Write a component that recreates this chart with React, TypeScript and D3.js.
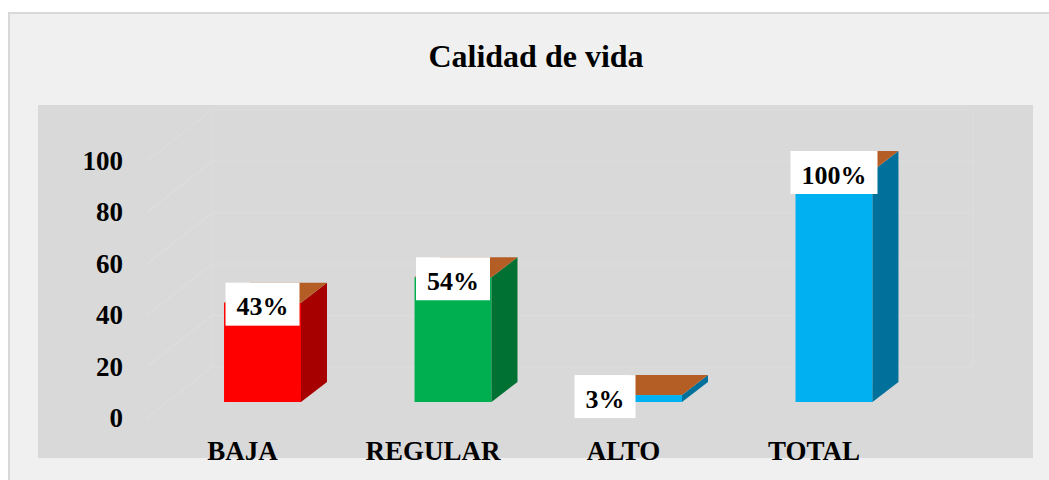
import React from "react";
import * as d3 from "d3";

const categories = ["BAJA", "REGULAR", "ALTO", "TOTAL"];
const values = [43, 54, 3, 100];
const valueLabels = ["43%", "54%", "3%", "100%"];
const yTicks = [0, 20, 40, 60, 80, 100];
const title = "Calidad de vida";

const frontColors = ["#ff0000", "#00b050", "#00b0f0", "#00b0f0"];
const sideColors = ["#a60000", "#007033", "#01709b", "#01709b"];
const topColor = "#b45e25";

const W = 1049;
const H = 480;
const FONT = "'Liberation Serif', 'Times New Roman', serif";

export default function App() {
  // axis/grid scale (front edge of floor)
  const yGrid = d3.scaleLinear().domain([0, 100]).range([418, 161]);
  // bar scale (at bar front plane)
  const yBar = d3.scaleLinear().domain([0, 100]).range([402, 171]);
  const x = d3.scaleBand<string>().domain(categories).range([110.5, 986]).padding(0.596);
  const bw = x.bandwidth();
  const wallDx = 65, wallDy = -51; // full depth of floor
  const barDx = 26, barDy = -20; // bar depth
  const labelShift = -20; // category label at floor front
  const gridLeft = 147;
  const wallRight = 973;
  const base = yBar(0);

  return (
    <svg width={W} height={H} style={{ position: "absolute", left: 0, top: 0 }} fontFamily={FONT}>
      <rect x={0} y={0} width={W} height={H} fill="#ffffff" />
      <rect x={9} y={13} width={1070} height={490} fill="#f0f0f0" stroke="#d9d9d9" strokeWidth={2} />
      <text x={536} y={67} textAnchor="middle" fontSize={32} fontWeight="bold" fill="#000">{title}</text>
      <rect x={38} y={105} width={995} height={353} fill="#d9d9d9" />
      {/* back wall */}
      <line x1={gridLeft + wallDx} y1={yGrid(100) + wallDy} x2={gridLeft + wallDx} y2={yGrid(0) + wallDy} stroke="#dddddd" strokeWidth={1} />
      <line x1={wallRight} y1={yGrid(100) + wallDy} x2={wallRight} y2={yGrid(0) + wallDy} stroke="#dddddd" strokeWidth={1} />
      {yTicks.map((t) => (
        <g key={t}>
          <line x1={gridLeft} y1={yGrid(t)} x2={gridLeft + wallDx} y2={yGrid(t) + wallDy} stroke="#dddddd" strokeWidth={1.5} />
          <line x1={gridLeft + wallDx} y1={yGrid(t) + wallDy} x2={wallRight} y2={yGrid(t) + wallDy} stroke="#dddddd" strokeWidth={1} />
          <text x={123} y={yGrid(t) + 9} textAnchor="end" fontSize={27} fontWeight="bold" fill="#000">{t}</text>
        </g>
      ))}
      {/* bars */}
      {categories.map((c, i) => {
        const x0 = x(c)!;
        const yt = yBar(values[i]);
        const top = [[x0, yt], [x0 + barDx, yt + barDy], [x0 + bw + barDx, yt + barDy], [x0 + bw, yt]];
        const side = [[x0 + bw, yt], [x0 + bw + barDx, yt + barDy], [x0 + bw + barDx, base + barDy], [x0 + bw, base]];
        return (
          <g key={c}>
            <rect x={x0} y={yt} width={bw} height={base - yt} fill={frontColors[i]} />
            <polygon points={side.map((p) => p.join(",")).join(" ")} fill={sideColors[i]} />
            <polygon points={top.map((p) => p.join(",")).join(" ")} fill={topColor} />
          </g>
        );
      })}
      {/* data labels */}
      {categories.map((c, i) => {
        const x0 = x(c)!;
        const lbl = valueLabels[i];
        const em = lbl.split("").reduce((s, ch) => s + (ch === "%" ? 1 : 0.5), 0);
        const bwLabel = em * 26 + 22;
        const cx = values[i] < 10 ? x0 : x0 + bw / 2;
        const top = yBar(values[i]) + barDy;
        return (
          <g key={"l" + c}>
            <rect x={cx - bwLabel / 2} y={top} width={bwLabel} height={43} fill="#ffffff" />
            <text x={cx} y={top + 32.5} textAnchor="middle" fontSize={26} fontWeight="bold" fill="#000">{lbl}</text>
          </g>
        );
      })}
      {/* category labels */}
      {categories.map((c) => (
        <text key={"c" + c} x={x(c)! + bw / 2 + labelShift} y={460} textAnchor="middle" fontSize={27} fontWeight="bold" fill="#000">{c}</text>
      ))}
    </svg>
  );
}
